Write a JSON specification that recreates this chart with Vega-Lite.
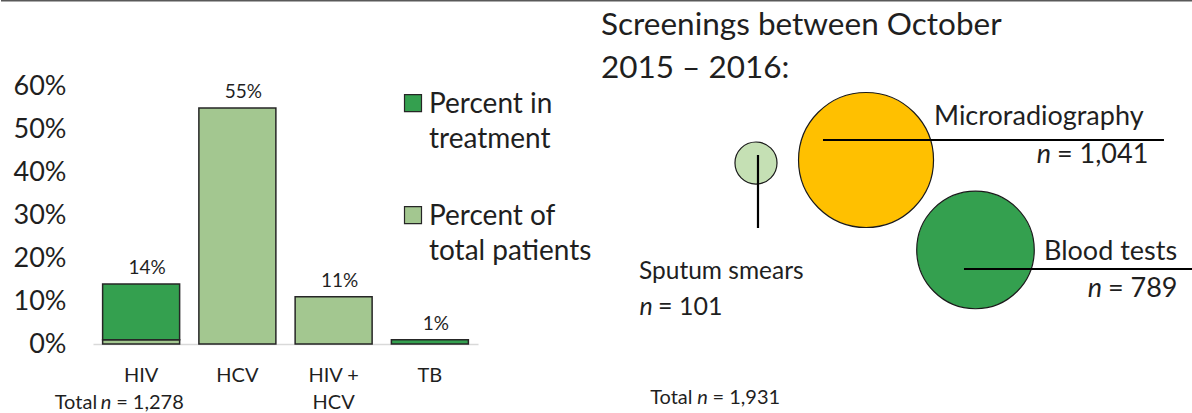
{
  "$schema": "https://vega.github.io/schema/vega-lite/v6.json",
  "padding": 0,
  "spacing": 0,
  "bounds": "flush",
  "background": "white",
  "resolve": {"scale": {"color": "independent", "size": "independent", "x": "independent", "y": "independent"}, "legend": {"color": "independent", "size": "independent"}},
  "config": {"view": {"stroke": null}, "font": "Lato", "text": {"font": "Lato"}},
  "hconcat": [
    {
      "width": 477,
      "height": 344,
      "data": {"values": [
        {"condition": "HIV", "series": "Percent of total patients", "pct": 0.01},
        {"condition": "HIV", "series": "Percent in treatment", "pct": 0.13},
        {"condition": "HCV", "series": "Percent of total patients", "pct": 0.55},
        {"condition": "HIV + HCV", "series": "Percent of total patients", "pct": 0.11},
        {"condition": "TB", "series": "Percent in treatment", "pct": 0.01}
      ]},
      "layer": [
        {
          "mark": {"type": "bar", "stroke": "#262626", "strokeWidth": 1.5},
          "encoding": {
            "x": {"field": "condition", "type": "nominal", "sort": ["HIV", "HCV", "HIV + HCV", "TB"],
              "scale": {"range": [92, 477], "paddingInner": 0.2, "paddingOuter": 0.1},
              "axis": {"title": null, "labelAngle": 0, "ticks": false, "domainColor": "#d9d9d9", "domainWidth": 1.5,
                "labelFont": "Lato", "labelFontSize": 20, "labelColor": "#1f1f1f", "labelPadding": 21, "labelLineHeight": 27,
                "labelExpr": "datum.label == 'HIV + HCV' ? ['HIV +', 'HCV'] : datum.label"}},
            "y": {"field": "pct", "type": "quantitative", "stack": "zero",
              "scale": {"domain": [0, 0.802], "nice": false},
              "axis": {"title": null, "values": [0, 0.1, 0.2, 0.3, 0.4, 0.5, 0.6], "format": ".0%", "domain": false, "ticks": false, "grid": false,
                "labelFont": "Lato", "labelFontSize": 27, "labelColor": "#1f1f1f", "labelPadding": 27, "offset": -92}},
            "color": {"field": "series", "type": "nominal",
              "scale": {"domain": ["Percent in treatment", "Percent of total patients"], "range": ["#34a04f", "#a3c790"]},
              "legend": {"orient": "none", "legendX": 398, "legendY": 77, "title": null, "padding": 0,
                "symbolType": "M-1,0.42H1V2.42H-1Z", "symbolSize": 289, "symbolStrokeColor": "#262626", "symbolStrokeWidth": 1.2, "symbolOpacity": 1,
                "labelFont": "Lato", "labelFontSize": 28, "labelColor": "#1f1f1f", "labelLimit": 0, "labelOffset": 2,
                "labelBaseline": "top", "rowPadding": 35,
                "labelExpr": "datum.label == 'Percent in treatment' ? ['Percent in', 'treatment'] : ['Percent of', 'total patients']",
                "encode": {"labels": {"update": {"lineHeight": {"value": 35}}}}}},
            "order": {"field": "series", "sort": "descending"}
          }
        },
        {
          "mark": {"type": "text", "baseline": "alphabetic", "dy": -10, "dx": 6, "fontSize": 19, "font": "Lato", "color": "#1f1f1f"},
          "encoding": {
            "x": {"field": "condition", "type": "nominal", "sort": ["HIV", "HCV", "HIV + HCV", "TB"]},
            "y": {"aggregate": "sum", "field": "pct", "type": "quantitative"},
            "text": {"aggregate": "sum", "field": "pct", "type": "quantitative", "format": ".0%"}
          }
        },
        {
          "data": {"values": [{}]},
          "mark": {"type": "rule", "color": "#595959", "strokeWidth": 1.5},
          "encoding": {"y": {"datum": 0.8}}
        },
        {
          "data": {"values": [{}]},
          "mark": {"type": "text", "text": "Total", "align": "right", "baseline": "alphabetic", "dx": -44, "fontSize": 20, "font": "Lato", "color": "#1f1f1f"},
          "encoding": {"x": {"datum": "HIV"}, "y": {"datum": -0.1515}}
        },
        {
          "data": {"values": [{}]},
          "mark": {"type": "text", "text": "n", "align": "center", "baseline": "alphabetic", "dx": -35, "fontSize": 20, "font": "Lato", "fontStyle": "italic", "color": "#1f1f1f"},
          "encoding": {"x": {"datum": "HIV"}, "y": {"datum": -0.1515}}
        },
        {
          "data": {"values": [{}]},
          "mark": {"type": "text", "text": "= 1,278", "align": "left", "baseline": "alphabetic", "dx": -25, "fontSize": 20, "font": "Lato", "color": "#1f1f1f"},
          "encoding": {"x": {"datum": "HIV"}, "y": {"datum": -0.1515}}
        }
      ]
    },
    {
      "width": 715,
      "height": 413,
      "data": {"values": [
        {"test": "Sputum smears", "n": 101, "x": 38.88, "y": 60.53},
        {"test": "Microradiography", "n": 1041, "x": 54.27, "y": 61.26},
        {"test": "Blood tests", "n": 789, "x": 69.58, "y": 39.47}
      ]},
      "encoding": {
        "x": {"type": "quantitative", "scale": {"domain": [0, 100], "nice": false, "zero": false}, "axis": null},
        "y": {"type": "quantitative", "scale": {"domain": [0, 100], "nice": false, "zero": false}, "axis": null}
      },
      "layer": [
        {
          "data": {"values": [{}]},
          "mark": {"type": "rule", "color": "#595959", "strokeWidth": 1.5},
          "encoding": {"y": {"datum": 99.8}}
        },
        {
          "mark": {"type": "circle", "opacity": 1, "stroke": "#1a1a1a", "strokeWidth": 1.2},
          "encoding": {
            "x": {"field": "x", "type": "quantitative"},
            "y": {"field": "y", "type": "quantitative"},
            "size": {"field": "n", "type": "quantitative", "scale": {"domain": [0, 1041], "range": [0, 18225]}, "legend": null},
            "color": {"field": "test", "type": "nominal", "scale": {"domain": ["Sputum smears", "Microradiography", "Blood tests"], "range": ["#c5e0b4", "#ffc000", "#34a04f"]}, "legend": null}
          }
        },
        {
          "data": {"values": [{}]},
          "mark": {"type": "rule", "color": "#000000", "strokeWidth": 2.2},
          "encoding": {"x": {"datum": 39.16}, "y": {"datum": 62.47}, "y2": {"datum": 44.79}}
        },
        {
          "data": {"values": [{}]},
          "mark": {"type": "rule", "color": "#000000", "strokeWidth": 2.2},
          "encoding": {"x": {"datum": 48.25}, "x2": {"datum": 95.94}, "y": {"datum": 66.10}}
        },
        {
          "data": {"values": [{}]},
          "mark": {"type": "rule", "color": "#000000", "strokeWidth": 2.2},
          "encoding": {"x": {"datum": 67.97}, "x2": {"datum": 100}, "y": {"datum": 34.87}}
        },
        {
          "data": {"values": [{}]},
          "mark": {"type": "text", "text": "Screenings between October", "align": "left", "baseline": "alphabetic", "fontSize": 31.5, "font": "Lato", "color": "#1f1f1f"},
          "encoding": {"x": {"datum": 17.2}, "y": {"datum": 91.53}}
        },
        {
          "data": {"values": [{}]},
          "mark": {"type": "text", "text": "2015 – 2016:", "align": "left", "baseline": "alphabetic", "fontSize": 31.5, "font": "Lato", "color": "#1f1f1f"},
          "encoding": {"x": {"datum": 17.2}, "y": {"datum": 81.11}}
        },
        {
          "data": {"values": [{}]},
          "mark": {"type": "text", "text": "Microradiography", "align": "left", "baseline": "alphabetic", "fontSize": 27, "font": "Lato", "color": "#1f1f1f"},
          "encoding": {"x": {"datum": 63.78}, "y": {"datum": 69.73}}
        },
        {
          "data": {"values": [{}]},
          "mark": {"type": "text", "text": "n", "align": "center", "baseline": "alphabetic", "fontSize": 27, "font": "Lato", "fontStyle": "italic", "color": "#1f1f1f"},
          "encoding": {"x": {"datum": 79.16}, "y": {"datum": 60.53}}
        },
        {
          "data": {"values": [{}]},
          "mark": {"type": "text", "text": "= 1,041", "align": "left", "baseline": "alphabetic", "fontSize": 27, "font": "Lato", "dx": 13, "color": "#1f1f1f"},
          "encoding": {"x": {"datum": 79.16}, "y": {"datum": 60.53}}
        },
        {
          "data": {"values": [{}]},
          "mark": {"type": "text", "text": "Blood tests", "align": "left", "baseline": "alphabetic", "fontSize": 27, "font": "Lato", "color": "#1f1f1f"},
          "encoding": {"x": {"datum": 79.16}, "y": {"datum": 37.05}}
        },
        {
          "data": {"values": [{}]},
          "mark": {"type": "text", "text": "n", "align": "center", "baseline": "alphabetic", "fontSize": 27, "font": "Lato", "fontStyle": "italic", "color": "#1f1f1f"},
          "encoding": {"x": {"datum": 86.29}, "y": {"datum": 28.09}}
        },
        {
          "data": {"values": [{}]},
          "mark": {"type": "text", "text": "= 789", "align": "left", "baseline": "alphabetic", "fontSize": 27, "font": "Lato", "dx": 13, "color": "#1f1f1f"},
          "encoding": {"x": {"datum": 86.29}, "y": {"datum": 28.09}}
        },
        {
          "data": {"values": [{}]},
          "mark": {"type": "text", "text": "Sputum smears", "align": "left", "baseline": "alphabetic", "fontSize": 24.5, "font": "Lato", "color": "#1f1f1f"},
          "encoding": {"x": {"datum": 22.52}, "y": {"datum": 32.45}}
        },
        {
          "data": {"values": [{}]},
          "mark": {"type": "text", "text": "n", "align": "center", "baseline": "alphabetic", "fontSize": 25, "font": "Lato", "fontStyle": "italic", "color": "#1f1f1f"},
          "encoding": {"x": {"datum": 23.5}, "y": {"datum": 23.73}}
        },
        {
          "data": {"values": [{}]},
          "mark": {"type": "text", "text": "= 101", "align": "left", "baseline": "alphabetic", "fontSize": 25, "font": "Lato", "dx": 12, "color": "#1f1f1f"},
          "encoding": {"x": {"datum": 23.5}, "y": {"datum": 23.73}}
        },
        {
          "data": {"values": [{}]},
          "mark": {"type": "text", "text": "Total", "align": "right", "baseline": "alphabetic", "fontSize": 20, "font": "Lato", "dx": -10, "color": "#1f1f1f"},
          "encoding": {"x": {"datum": 31.4}, "y": {"datum": 2.18}}
        },
        {
          "data": {"values": [{}]},
          "mark": {"type": "text", "text": "n", "align": "center", "baseline": "alphabetic", "fontSize": 20, "font": "Lato", "fontStyle": "italic", "color": "#1f1f1f"},
          "encoding": {"x": {"datum": 31.4}, "y": {"datum": 2.18}}
        },
        {
          "data": {"values": [{}]},
          "mark": {"type": "text", "text": "= 1,931", "align": "left", "baseline": "alphabetic", "fontSize": 20, "font": "Lato", "dx": 10, "color": "#1f1f1f"},
          "encoding": {"x": {"datum": 31.4}, "y": {"datum": 2.18}}
        }
      ]
    }
  ]
}
